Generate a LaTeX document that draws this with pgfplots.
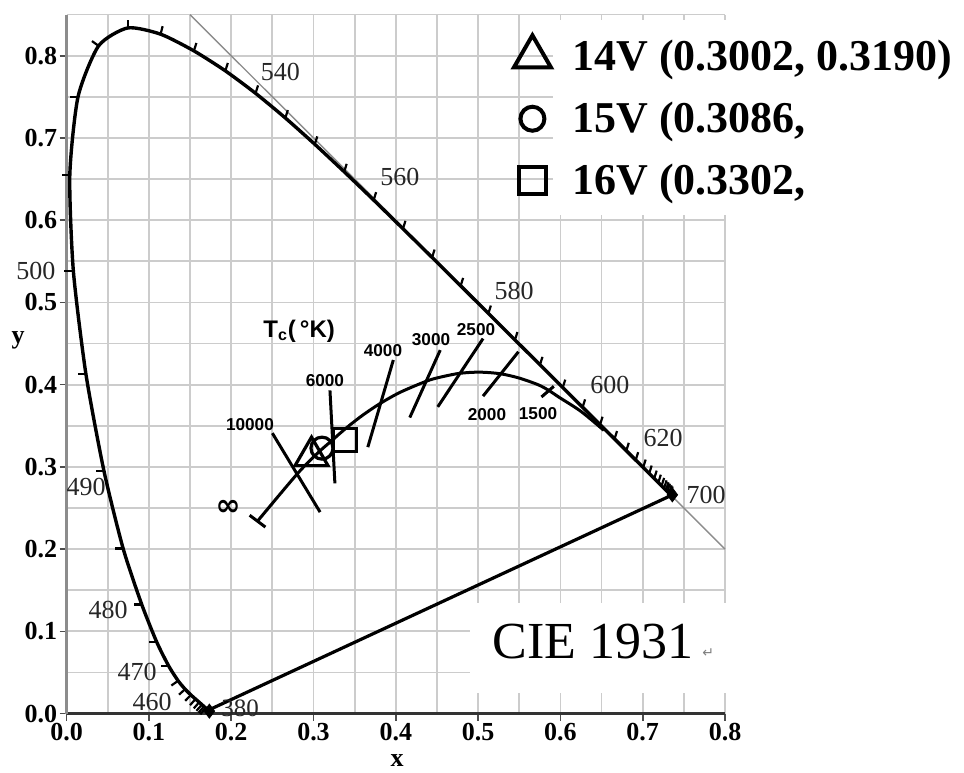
\documentclass[border=0pt]{standalone}
\usepackage{fontspec}
\setmainfont{Liberation Serif}
\newfontfamily\arialfont{Liberation Sans}
\newfontfamily\dejavu{DejaVu Sans}
\usepackage{pgfplots}
\pgfplotsset{compat=1.18}
\pgfplotstableread{
x y u v
0.1689 0.0069 -0.0064 -0.0077
0.1669 0.0086 -0.0066 -0.0075
0.1644 0.0109 -0.0066 -0.0075
0.1611 0.0138 -0.0066 -0.0075
0.1566 0.0177 -0.0066 -0.0075
0.1510 0.0227 -0.0069 -0.0072
0.1440 0.0297 -0.0074 -0.0067
0.1355 0.0399 -0.0082 -0.0058
0.1241 0.0578 -0.0100 0
0.1096 0.0868 -0.0100 0
0.0913 0.1327 -0.0100 0
0.0687 0.2007 -0.0100 0
0.0454 0.2950 -0.0100 0
0.0235 0.4127 -0.0100 0
0.0082 0.5384 -0.0110 0
0.0039 0.6548 -0.0100 0
0.0139 0.7502 -0.0100 0
0.0389 0.8120 -0.0081 0.0058
0.0743 0.8338 0 0.0100
0.1142 0.8262 0.0025 0.0097
0.1547 0.8059 0.0030 0.0096
0.1929 0.7816 0.0030 0.0096
0.2296 0.7543 0.0030 0.0096
0.2658 0.7243 0.0030 0.0096
0.3016 0.6923 0.0030 0.0096
0.3373 0.6589 0.0030 0.0096
0.3731 0.6245 0.0030 0.0096
0.4087 0.5896 0.0030 0.0096
0.4441 0.5547 0.0030 0.0096
0.4788 0.5202 0.0030 0.0096
0.5125 0.4866 0.0030 0.0096
0.5448 0.4544 0.0030 0.0096
0.5752 0.4242 0.0030 0.0096
0.6029 0.3965 0.0030 0.0096
0.6270 0.3725 0.0030 0.0096
0.6482 0.3514 0.0030 0.0096
0.6658 0.3340 0.0030 0.0096
0.6801 0.3197 0.0030 0.0096
0.6915 0.3083 0.0030 0.0096
0.7006 0.2993 0.0030 0.0096
0.7079 0.2920 0.0030 0.0096
0.7140 0.2859 0.0030 0.0096
0.7190 0.2809 0.0030 0.0096
0.7230 0.2770 0.0030 0.0096
0.7260 0.2740 0.0030 0.0096
0.7283 0.2717 0.0030 0.0096
0.7300 0.2700 0.0030 0.0096
0.7320 0.2680 0.0030 0.0096
0.7334 0.2666 0.0030 0.0096
}\loctick
\begin{document}
\begin{tikzpicture}
\begin{axis}[
  scale only axis,
  width=329.2pt, height=349.5pt,
  xmin=0, xmax=0.8, ymin=0, ymax=0.85,
  clip=false,
  axis lines=left,
  axis line style={-},
  x axis line style={black!80, line width=1.4pt},
  y axis line style={black!45, line width=1.6pt},
  xtick={0,0.1,0.2,0.3,0.4,0.5,0.6,0.7,0.8},
  ytick={0,0.1,0.2,0.3,0.4,0.5,0.6,0.7,0.8},
  xticklabels={0.0,0.1,0.2,0.3,0.4,0.5,0.6,0.7,0.8},
  yticklabels={0.0,0.1,0.2,0.3,0.4,0.5,0.6,0.7,0.8},
  minor xtick={0.05,0.15,0.25,0.35,0.45,0.55,0.65,0.75},
  minor ytick={0.05,0.15,0.25,0.35,0.45,0.55,0.65,0.75,0.85},
  grid=both,
  major grid style={black!20, line width=0.9pt},
  minor grid style={black!20, line width=0.9pt},
  tick align=outside,
  major tick length=3.5pt,
  minor tick length=0pt,
  tick style={black!70, line width=0.8pt},
  ticklabel style={font=\bfseries\fontsize{13}{13}\selectfont, inner sep=1pt},
  xticklabel style={yshift=0pt},
  xlabel={x}, ylabel={y},
  label style={font=\bfseries\fontsize{13}{13}\selectfont, inner sep=0pt},
  xlabel style={at={(axis description cs:0.502,0)}, anchor=center, yshift=-23.5pt},
  ylabel style={at={(axis description cs:-0.0738,0.5336)}, anchor=center, rotate=-90},
  legend style={at={(axis cs:0.5388,0.826)}, anchor=north west, draw=none, fill=none,
    inner sep=0pt, row sep=9pt, column sep=9pt,
    font=\bfseries\fontsize{22}{24}\selectfont, nodes={inner sep=0pt}},
  legend cell align=left,
  legend image code/.code={\draw[#1] plot coordinates {(0pt,0pt)}; \path[draw=none, fill=none] (-11pt,-11pt) rectangle (11pt,11pt);},
]
\coordinate (bl) at (rel axis cs:0,0);
\coordinate (tr) at (rel axis cs:1,1);
\addlegendimage{only marks, black, mark=triangle, mark size=10.7pt, mark options={line width=2pt, fill=white}}
\addlegendentry{14V (0.3002, 0.3190)}
\addlegendimage{only marks, black, mark=o, mark size=6pt, mark options={line width=2pt, fill=white}}
\addlegendentry{15V (0.3086,}
\addlegendimage{only marks, black, mark=square, mark size=6.75pt, mark options={line width=2pt, fill=white}}
\addlegendentry{16V (0.3302,}

% white masks
\fill[white] (axis cs:0.591,0.6061) rectangle (axis cs:1.09,0.8434);
\fill[white] (axis cs:0.490,0.0256) rectangle (axis cs:0.812,0.135);

% x+y=1 line
\addplot[forget plot, black!45, line width=0.7pt] coordinates {(0.15,0.85) (0.8,0.2)};

% spectral locus
\addplot[forget plot, black, line width=1.7pt, smooth, tension=0.4] coordinates {
(0.1741,0.0050) (0.1726,0.0048) (0.1714,0.0051) (0.1703,0.0058) (0.1689,0.0069)
(0.1669,0.0086) (0.1644,0.0109) (0.1611,0.0138) (0.1566,0.0177) (0.1510,0.0227)
(0.1440,0.0297) (0.1355,0.0399) (0.1241,0.0578) (0.1096,0.0868) (0.0913,0.1327)
(0.0687,0.2007) (0.0454,0.2950) (0.0235,0.4127) (0.0082,0.5384) (0.0039,0.6548)
(0.0139,0.7502) (0.0389,0.8120) (0.0743,0.8338) (0.1142,0.8262) (0.1547,0.8059)
(0.1929,0.7816) (0.2296,0.7543) (0.2658,0.7243) (0.3016,0.6923) (0.3373,0.6589)
(0.3731,0.6245) (0.4087,0.5896) (0.4441,0.5547) (0.4788,0.5202) (0.5125,0.4866)
(0.5448,0.4544) (0.5752,0.4242) (0.6029,0.3965) (0.6270,0.3725) (0.6482,0.3514)
(0.6658,0.3340) (0.6801,0.3197) (0.6915,0.3083) (0.7006,0.2993) (0.7079,0.2920)
(0.7140,0.2859) (0.7190,0.2809) (0.7230,0.2770) (0.7260,0.2740) (0.7300,0.2700)
(0.7334,0.2666) (0.7347,0.2653)};
% purple line
\addplot[forget plot, black, line width=1.6pt] coordinates {(0.1741,0.0050) (0.7347,0.2653)};
% locus ticks
\addplot[forget plot, black, line width=1.1pt, quiver={u=\thisrow{u}, v=\thisrow{v}}] table[x=x, y=y] {\loctick};
\addplot[forget plot, only marks, black, mark=diamond*, mark size=3.5pt] coordinates {(0.1735,0.0030) (0.7360,0.2660)};

% Planckian locus
\addplot[forget plot, black, line width=1.5pt, smooth] coordinates {
(0.2320,0.2340) (0.2807,0.2920) (0.3064,0.3180) (0.3221,0.3318) (0.3324,0.3410)
(0.3451,0.3516) (0.3608,0.3636)
(0.3805,0.3768) (0.4053,0.3907) (0.4369,0.4041) (0.4520,0.4086) (0.4770,0.4137)
(0.5020,0.4152) (0.5267,0.4133) (0.5496,0.4081) (0.5729,0.3999) (0.5857,0.3931)
(0.5985,0.3846) (0.6251,0.3674) (0.6528,0.3444)};
% infinity cap
\addplot[forget plot, black, line width=1.5pt] coordinates {(0.2224,0.2412) (0.2416,0.2268)};
% isotemperature lines
\addplot[forget plot, black, line width=1.5pt] coordinates {(0.250,0.341) (0.308,0.245)};
\addplot[forget plot, black, line width=1.5pt] coordinates {(0.320,0.393) (0.326,0.280)};
\addplot[forget plot, black, line width=1.5pt] coordinates {(0.397,0.430) (0.366,0.324)};
\addplot[forget plot, black, line width=1.5pt] coordinates {(0.454,0.442) (0.417,0.360)};
\addplot[forget plot, black, line width=1.5pt] coordinates {(0.506,0.456) (0.451,0.373)};
\addplot[forget plot, black, line width=1.5pt] coordinates {(0.549,0.440) (0.506,0.386)};
\addplot[forget plot, black, line width=1.5pt] coordinates {(0.577,0.385) (0.592,0.398)};

% measured points
\addplot[forget plot, only marks, black, mark=square, mark size=5.75pt, mark options={line width=1.6pt, fill=white}] coordinates {(0.338,0.333)};
\addplot[forget plot, only marks, black, mark=o, mark size=5.5pt, mark options={line width=1.6pt, fill=white}] coordinates {(0.3103,0.3228)};
\addplot[forget plot, only marks, black, mark=triangle, mark size=9.5pt, mark options={line width=1.6pt, fill=white}] coordinates {(0.2976,0.3131)};

% wavelength labels
\begin{scope}[every node/.style={font=\fontsize{13}{13}\selectfont, text=black!85, inner sep=0pt}]
\node at (axis cs:0.2597,0.780) {540};
\node at (axis cs:0.405,0.652) {560};
\node at (axis cs:0.5437,0.5136) {580};
\node at (axis cs:0.660,0.399) {600};
\node at (axis cs:0.7248,0.3347) {620};
\node at (axis cs:0.777,0.2653) {700};
\node at (axis cs:-0.0372,0.538) {500};
\node at (axis cs:0.0236,0.275) {490};
\node at (axis cs:0.0504,0.1254) {480};
\node at (axis cs:0.0857,0.0511) {470};
\node at (axis cs:0.104,0.0146) {460};
\node[font=\fontsize{12.5}{12.5}\selectfont] at (axis cs:0.2107,0.0065) {380};
\end{scope}
% temperature labels
\begin{scope}[every node/.style={font=\arialfont\bfseries\fontsize{8.6}{9}\selectfont, inner sep=0pt}]
\node at (axis cs:0.2228,0.3517) {10000};
\node at (axis cs:0.3139,0.4053) {6000};
\node at (axis cs:0.3844,0.4418) {4000};
\node at (axis cs:0.4428,0.4552) {3000};
\node at (axis cs:0.4975,0.4673) {2500};
\node at (axis cs:0.5108,0.3639) {2000};
\node at (axis cs:0.5728,0.3651) {1500};
\end{scope}
\node[anchor=base west, inner sep=0pt, font=\arialfont\bfseries\fontsize{12}{12}\selectfont] at (axis cs:0.2386,0.4576) {T\textsubscript{c}(\,°K)};
\node[inner sep=0pt, font=\dejavu\bfseries\fontsize{15}{15}\selectfont] at (axis cs:0.1962,0.2495) {∞};
% CIE 1931
\node[anchor=base west, inner sep=0pt, font=\fontsize{26}{26}\selectfont] at (axis cs:0.517,0.0669) {CIE 1931};
\node[anchor=base west, inner sep=0pt, font=\dejavu\fontsize{7}{7}\selectfont, text=black!50] at (axis cs:0.772,0.068) {↵};
\end{axis}
\pgfresetboundingbox
\path[use as bounding box] ([shift={(-33.3pt,-29.5pt)}]bl) rectangle ([shift={(119.5pt,7.3pt)}]tr);
\end{tikzpicture}
\end{document}
